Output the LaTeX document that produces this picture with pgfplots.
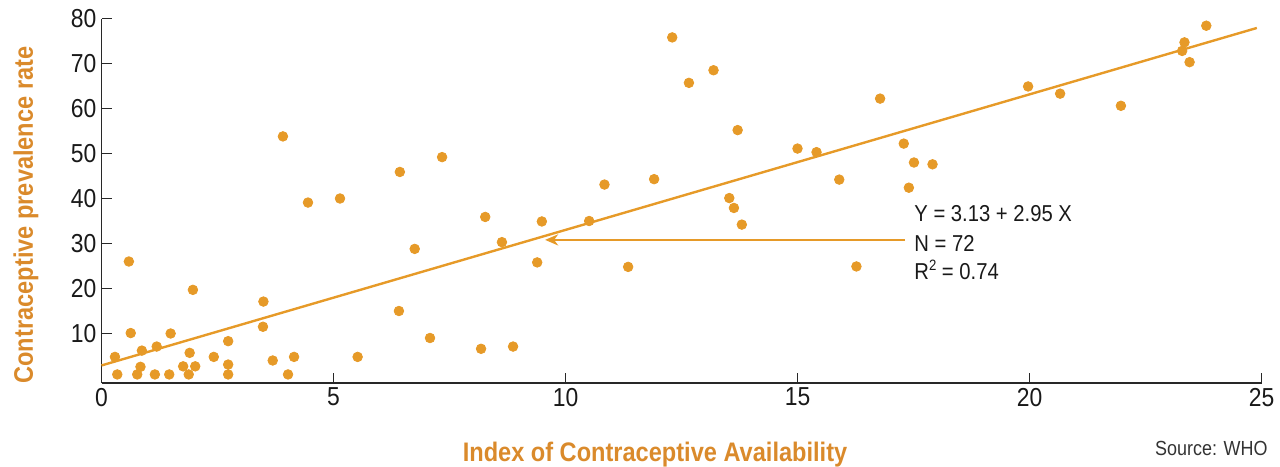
\documentclass[border=0pt]{standalone}
\usepackage{fontspec}
\setmainfont{Liberation Sans}[FakeStretch=0.88]
\usepackage{pgfplots}
\pgfplotsset{compat=1.18}
\usetikzlibrary{arrows.meta}
\definecolor{dot}{RGB}{230,154,40}
\definecolor{lab}{RGB}{218,138,43}
\definecolor{axc}{RGB}{40,40,40}

\pgfplotstableread{
x y
1.97 19.7
3.49 17.1
0.63 10.1
1.49 10.0
6.41 15.0
3.48 11.5
7.08 9.0
0.29 4.8
0.87 6.2
1.19 7.1
1.90 5.7
2.73 8.3
2.42 4.8
4.15 4.8
5.52 4.8
0.84 2.6
1.76 2.7
2.02 2.7
2.73 3.1
3.69 4.0
0.34 0.9
0.77 0.9
1.15 0.9
1.46 0.9
1.88 0.9
2.73 0.9
4.02 0.9
0.59 26.0
3.91 53.8
4.45 39.1
8.18 6.6
8.87 7.1
5.14 40.0
6.43 45.9
7.34 49.2
8.27 35.9
9.49 34.9
6.75 28.8
8.63 30.3
9.39 25.8
12.30 75.8
13.19 68.5
12.66 65.7
13.71 55.2
10.84 43.1
11.91 44.3
10.51 35.0
11.35 24.8
13.53 40.1
13.63 37.9
13.80 34.2
16.27 24.9
16.78 62.2
15.00 51.1
15.41 50.3
17.29 52.2
17.51 48.0
17.91 47.6
15.90 44.2
17.40 42.4
19.97 64.9
20.66 63.3
21.97 60.6
23.81 78.4
23.34 74.7
23.29 72.8
23.45 70.3
}\pts

\begin{document}
\begin{tikzpicture}
\begin{axis}[name=ax, anchor=south west, at={(0,0)},
  scale only axis, width=580pt, height=182.25pt,
  xmin=0, xmax=25, ymin=-1, ymax=80,
  axis lines=left, axis line style={-, axc, line width=0.7pt},
  xtick={0,5,...,25}, ytick={10,20,...,80},
  tick align=inside, major tick length=5pt,
  tick style={axc, line width=0.7pt},
  /pgf/number format/assume math mode=true,
  ticklabel style={font=\fontsize{13}{14}\selectfont, text=black!90},
  xticklabel style={yshift=1pt},
  yticklabel style={xshift=1pt},
  clip=false]
\addplot[only marks, mark=*, mark size=2.4pt, mark options={fill=dot, draw=dot}] table[x=x,y=y] {\pts};
\addplot[dot, line width=1.2pt] coordinates {(0,2.9) (24.9,77.9)};
\draw[dot, line width=1.1pt, -{Stealth[length=6.5pt,width=5.5pt,inset=2pt]}] (axis cs:17.32,30.8) -- (axis cs:9.56,30.8);
\end{axis}
\begin{scope}[shift={(ax.south west)}]
\node[anchor=base, text=lab, font=\fontsize{13.4}{15}\selectfont\bfseries, inner sep=0pt] at (276.75pt,-39pt) {Index of Contraceptive Availability};
\node[anchor=base, rotate=90, text=lab, font=\fontsize{13.4}{15}\selectfont\bfseries, inner sep=0pt] at (-34.25pt,84pt) {Contraceptive prevalence rate};
\node[anchor=base east, text=black!80, font=\fontsize{10.2}{12}\selectfont, inner sep=0pt] at (583.25pt,-36pt) {Source: WHO};
\node[anchor=base west, text=black!90, font=\fontsize{11.5}{13}\selectfont, inner sep=0pt] at (406.25pt,80.65pt) {Y = 3.13 + 2.95 X};
\node[anchor=base west, text=black!90, font=\fontsize{11.5}{13}\selectfont, inner sep=0pt] at (406.25pt,65.65pt) {N = 72};
\node[anchor=base west, text=black!90, font=\fontsize{11.5}{13}\selectfont, inner sep=0pt] at (406.25pt,51.85pt) {R\raisebox{0.75ex}{\fontsize{7.5}{8}\selectfont 2} = 0.74};
\end{scope}
\pgfresetboundingbox
\path (ax.south west) ++(-50.75pt,-41.5pt) rectangle ++(640pt,233pt);
\end{tikzpicture}
\end{document}
